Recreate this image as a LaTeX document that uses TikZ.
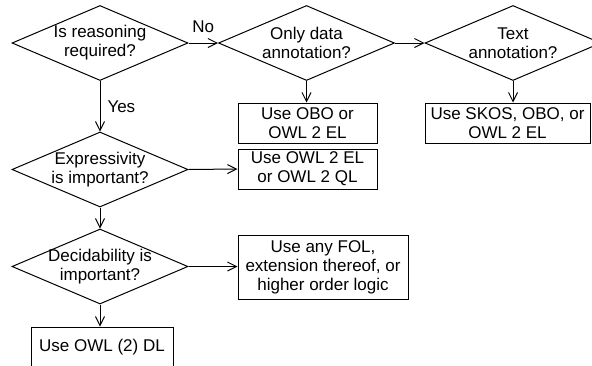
\documentclass[tikz,border=0pt]{standalone}
\usepackage{fontspec}
\setmainfont{Liberation Sans}
\usetikzlibrary{shapes.geometric,arrows.meta}
\begin{document}
\begin{tikzpicture}[x=1pt,y=-1pt,
  every node/.style={font=\fontsize{17}{19}\selectfont},
  dia/.style={shape=diamond,draw,line width=1pt,minimum width=176pt,minimum height=75pt,inner sep=0pt},
  dtext/.style={align=center,inner sep=0pt},
  box/.style={draw,line width=1pt,inner sep=0pt,align=center},
  arr/.style={line width=1pt,-{Straight Barb[length=9pt,width=9pt,line width=1pt]}},
  lbl/.style={inner sep=0pt}]
\useasboundingbox (0,0) rectangle (592,365);
\clip (0,0) rectangle (592,365);
% diamonds
\node[dia] (d1) at (100,43) {};
\node[dtext] (d1t) at (d1) {Is reasoning\\required?};
\node[dia] (d2) at (306.5,43) {};
\node[dtext] (d2t) at (d2) {Only data\\annotation?};
\node[dia] (d3) at (513,43) {};
\node[dtext] (d3t) at (d3) {Text\\annotation?};
\node[dia] (d4) at (100,169.5) {};
\node[dtext] (d4t) at (d4) {Expressivity\\is important?};
\node[dia] (d5) at (100,266.5) {};
\node[dtext] (d5t) at (d5) {Decidability is\\important?};
% boxes
\node[box,minimum width=139pt,minimum height=40pt] (b1) at (307.5,123) {Use OBO or\\OWL 2 EL};
\node[box,minimum width=165pt,minimum height=40pt] (b2) at (507.5,123) {Use SKOS, OBO, or\\OWL 2 EL};
\node[box,minimum width=139pt,minimum height=40pt] (b3) at (307.5,169) {Use OWL 2 EL\\or OWL 2 QL};
\node[box,minimum width=170pt,minimum height=64pt] (b4) at (323,267) {Use any FOL,\\extension thereof, or\\higher order logic};
\node[box,minimum width=142pt,minimum height=40pt] (b5) at (102,347) {Use OWL (2) DL};
% connectors
\draw[arr] (d1.east) -- node[lbl,above=10pt] (no) {No} (d2.west);
\draw[arr] (d2.east) -- (d3.west);
\draw[arr] (d1.south) -- node[lbl,right=7pt] (yes) {Yes} (d4.north);
\draw[arr] (d2.south) -- (d2.south |- b1.north);
\draw[arr] (d3.south) -- (d3.south |- b2.north);
\draw[arr] (d4.east) -- (b3.west);
\draw[arr] (d4.south) -- (d5.north);
\draw[arr] (d5.east) -- (d5.east -| b4.west);
\draw[arr] (d5.south) -- (d5.south |- b5.north);
\end{tikzpicture}
\end{document}
